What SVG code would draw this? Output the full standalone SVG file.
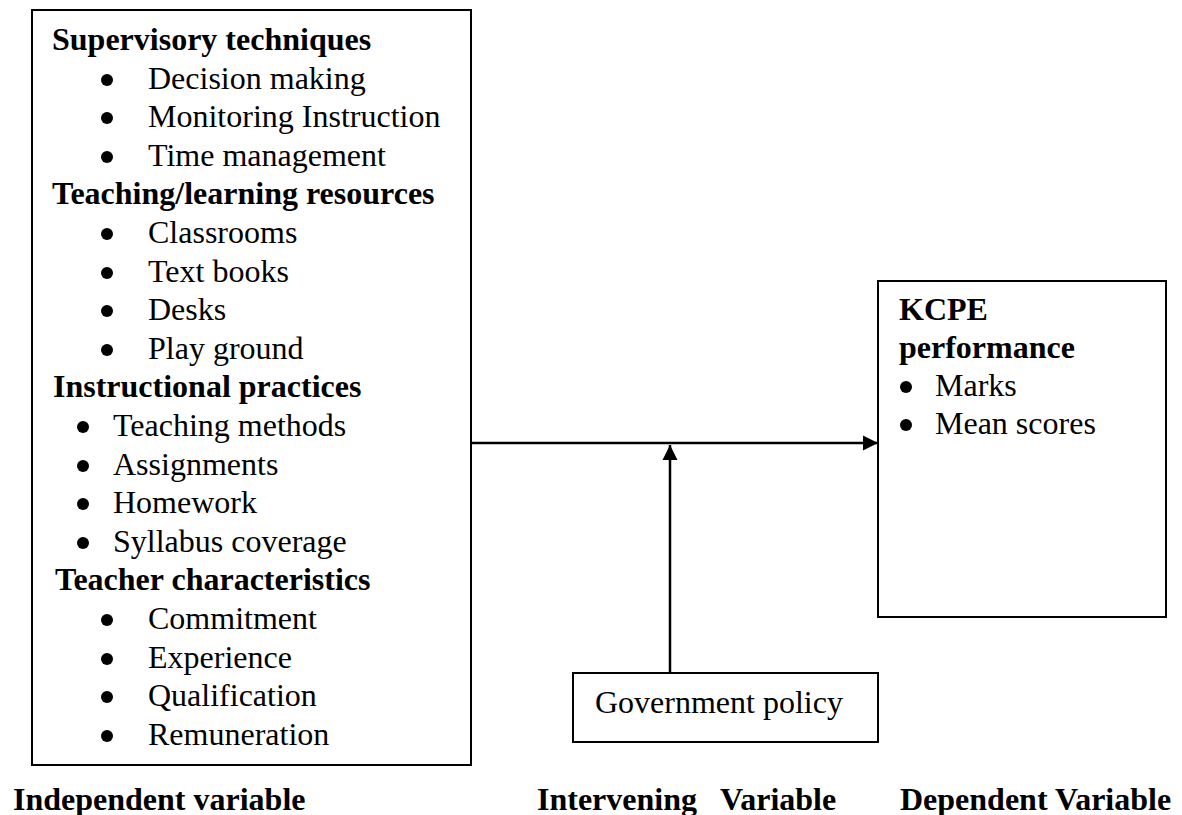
<svg xmlns="http://www.w3.org/2000/svg" width="1182" height="815" viewBox="0 0 1182 815">
  <style>
    .box { fill: #fff; stroke: #000; stroke-width: 2; }
    .t { font-family: "Liberation Serif", "Times New Roman", serif; font-size: 32px; fill: #000; }
    .b { font-weight: bold; }
    .dot { fill: #000; }
    .conn { stroke: #000; stroke-width: 2.5; fill: none; }
  </style>
  <defs>
    <marker id="arrow" markerUnits="userSpaceOnUse" markerWidth="16" markerHeight="16" viewBox="0 0 16 16" refX="15" refY="8" orient="auto">
      <path d="M0,0.5 L15,8 L0,15.5 Z" fill="#000"/>
    </marker>
  </defs>
  <rect width="1182" height="815" fill="#fff"/>

  <g id="independent">
    <rect class="box" x="32" y="10" width="439" height="755"/>
    <text class="t b" x="52" y="50">Supervisory techniques</text>
    <circle class="dot" cx="107" cy="80" r="6"/><text class="t" x="148" y="89">Decision making</text>
    <circle class="dot" cx="107" cy="118" r="6"/><text class="t" x="148" y="127">Monitoring Instruction</text>
    <circle class="dot" cx="107" cy="157" r="6"/><text class="t" x="148" y="166">Time management</text>
    <text class="t b" x="52" y="204">Teaching/learning resources</text>
    <circle class="dot" cx="107" cy="234" r="6"/><text class="t" x="148" y="243">Classrooms</text>
    <circle class="dot" cx="107" cy="273" r="6"/><text class="t" x="148" y="282">Text books</text>
    <circle class="dot" cx="107" cy="311" r="6"/><text class="t" x="148" y="320">Desks</text>
    <circle class="dot" cx="107" cy="350" r="6"/><text class="t" x="148" y="359">Play ground</text>
    <text class="t b" x="53" y="397">Instructional practices</text>
    <circle class="dot" cx="83" cy="427" r="6"/><text class="t" x="113" y="436">Teaching methods</text>
    <circle class="dot" cx="83" cy="466" r="6"/><text class="t" x="113" y="475">Assignments</text>
    <circle class="dot" cx="83" cy="504" r="6"/><text class="t" x="113" y="513">Homework</text>
    <circle class="dot" cx="83" cy="543" r="6"/><text class="t" x="113" y="552">Syllabus coverage</text>
    <text class="t b" x="55" y="590">Teacher characteristics</text>
    <circle class="dot" cx="107" cy="620" r="6"/><text class="t" x="148" y="629">Commitment</text>
    <circle class="dot" cx="107" cy="659" r="6"/><text class="t" x="148" y="668">Experience</text>
    <circle class="dot" cx="107" cy="697" r="6"/><text class="t" x="148" y="706">Qualification</text>
    <circle class="dot" cx="107" cy="736" r="6"/><text class="t" x="148" y="745">Remuneration</text>
  </g>

  <g id="dependent">
    <rect class="box" x="878" y="281" width="288" height="336"/>
    <text class="t b" x="899" y="320">KCPE</text>
    <text class="t b" x="899" y="358">performance</text>
    <circle class="dot" cx="906" cy="387" r="6"/><text class="t" x="935" y="396">Marks</text>
    <circle class="dot" cx="906" cy="425" r="6"/><text class="t" x="935" y="434">Mean scores</text>
  </g>

  <g id="intervening">
    <rect class="box" x="573" y="673" width="305" height="69"/>
    <text class="t" x="595" y="713">Government policy</text>
  </g>

  <g id="connectors">
    <line class="conn" x1="471" y1="443" x2="878" y2="443" marker-end="url(#arrow)"/>
    <line class="conn" x1="670" y1="673" x2="670" y2="445" marker-end="url(#arrow)"/>
  </g>

  <g id="labels">
    <text class="t b" x="13" y="810">Independent variable</text>
    <text class="t b" x="537" y="810">Intervening<tspan x="720">Variable</tspan></text>
    <text class="t b" x="900" y="810">Dependent Variable</text>
  </g>
</svg>
